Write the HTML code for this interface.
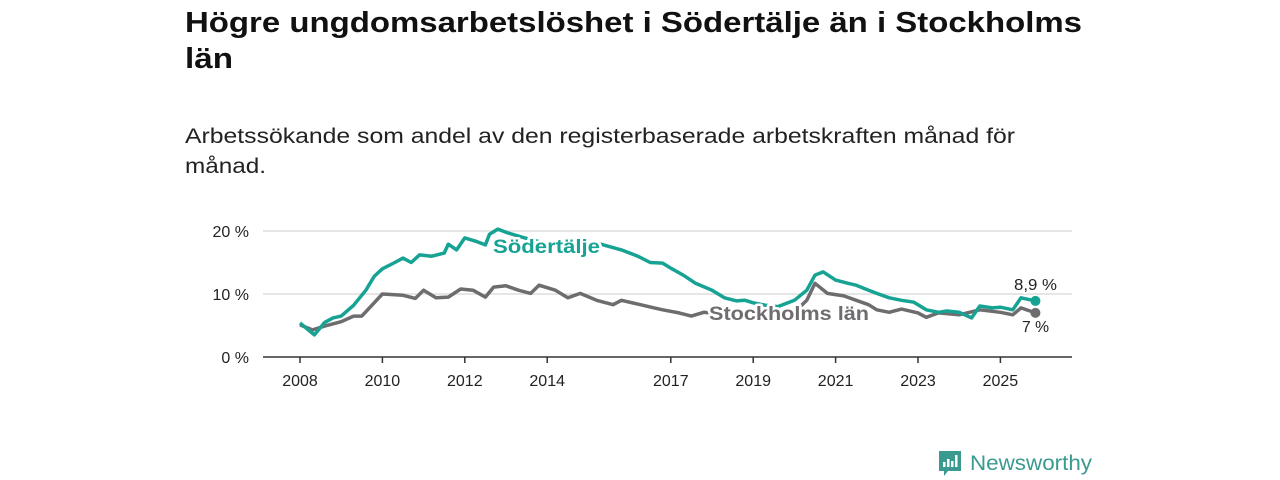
<!DOCTYPE html>
<html><head><meta charset="utf-8"><style>
html,body{margin:0;padding:0;background:#fff;width:1280px;height:480px;overflow:hidden}
svg{display:block;font-family:"Liberation Sans",sans-serif}
</style></head><body>
<svg id="c" width="1280" height="480" viewBox="0 0 1280 480">
<text x="185" y="32" font-size="29" font-weight="bold" fill="#111" textLength="897" lengthAdjust="spacingAndGlyphs">Högre ungdomsarbetslöshet i Södertälje än i Stockholms</text>
<text x="185" y="68" font-size="29" font-weight="bold" fill="#111" textLength="48" lengthAdjust="spacingAndGlyphs">län</text>
<text x="185" y="143" font-size="21" fill="#222" textLength="830" lengthAdjust="spacingAndGlyphs">Arbetssökande som andel av den registerbaserade arbetskraften månad för</text>
<text x="185" y="173" font-size="21" fill="#222" textLength="81" lengthAdjust="spacingAndGlyphs">månad.</text>
<g id="grid"></g><g id="lines"></g><g id="labels"></g>
<g>
<path d="M939 451h22v20h-13l-4 5v-5h-5z" fill="#3a9a8f"/>
<rect x="943" y="462" width="2.5" height="5" fill="#fff"/><rect x="947" y="459" width="2.5" height="8" fill="#fff"/><rect x="951" y="461" width="2.5" height="6" fill="#fff"/><rect x="955" y="455" width="2.5" height="12" fill="#fff"/>
<text x="970" y="470" font-size="21" fill="#3a9a8f" textLength="122" lengthAdjust="spacingAndGlyphs">Newsworthy</text>
</g>
</svg>
<script>
const yTicks=[0,10,20];
const xTickYears=[2008,2010,2012,2014,2017,2019,2021,2023,2025];
const sodT=[2008.0,2008.35,2008.6,2008.8,2009.0,2009.3,2009.6,2009.8,2010.0,2010.3,2010.5,2010.7,2010.9,2011.2,2011.5,2011.6,2011.8,2012.0,2012.3,2012.5,2012.6,2012.8,2013.0,2013.4,2013.8,2014.2,2014.6,2015.0,2015.3,2015.8,2016.2,2016.5,2016.8,2017.0,2017.3,2017.6,2018.0,2018.3,2018.6,2018.8,2019.0,2019.3,2019.6,2020.0,2020.3,2020.5,2020.7,2021.0,2021.3,2021.5,2021.8,2022.0,2022.3,2022.6,2022.9,2023.2,2023.5,2023.7,2024.0,2024.3,2024.5,2024.8,2025.0,2025.3,2025.5,2025.85];
const sodV=[5.4,3.5,5.5,6.2,6.5,8.2,10.6,12.8,14,15,15.7,15,16.2,16,16.5,17.9,17,18.9,18.3,17.8,19.5,20.3,19.8,19,18.3,17.5,16.5,16.5,17.9,17,16,15,14.9,14.1,13,11.7,10.6,9.4,8.9,9,8.6,8.2,8.0,9,10.6,13,13.5,12.2,11.7,11.4,10.6,10.1,9.4,9,8.7,7.5,7.1,7.3,7.1,6.2,8.1,7.8,7.9,7.5,9.4,8.9];
const stoT=[2008.0,2008.3,2008.6,2009.0,2009.3,2009.5,2009.8,2010.0,2010.5,2010.8,2011.0,2011.3,2011.6,2011.9,2012.2,2012.5,2012.7,2013.0,2013.3,2013.6,2013.8,2014.2,2014.5,2014.8,2015.2,2015.6,2015.8,2016.2,2016.6,2016.8,2017.2,2017.5,2017.8,2018.2,2018.5,2019.0,2019.5,2020.0,2020.3,2020.5,2020.8,2021.2,2021.5,2021.8,2022.0,2022.3,2022.6,2023.0,2023.2,2023.5,2024.0,2024.5,2025.0,2025.3,2025.5,2025.85];
const stoV=[5.1,4.3,4.9,5.6,6.5,6.5,8.6,10,9.8,9.3,10.6,9.4,9.5,10.8,10.6,9.5,11.1,11.3,10.6,10.1,11.4,10.6,9.4,10.1,9,8.3,9,8.4,7.8,7.5,7,6.5,7.1,6.8,6.5,6.3,6.2,7.1,9,11.7,10.1,9.7,9,8.3,7.5,7.1,7.6,7,6.3,7,6.7,7.5,7.1,6.7,7.8,7];
const NS='http://www.w3.org/2000/svg';
const x=t=>300+(t-2008)*41.2;
const y=v=>357-v*6.3;
function mk(tag,attrs,parent,txt){const e=document.createElementNS(NS,tag);for(const k in attrs)e.setAttribute(k,attrs[k]);if(txt!==undefined)e.textContent=txt;parent.appendChild(e);return e;}
const grid=document.getElementById('grid'),lines=document.getElementById('lines'),labels=document.getElementById('labels');
yTicks.forEach(v=>{
 const l=mk('line',{x1:263,x2:1072,y1:y(v),y2:y(v),stroke:v===0?'#333':'#ddd','stroke-width':v===0?1.5:1.5},grid);
 
 
 const t=mk('text',{x:249,y:y(v)+6,'text-anchor':'end','font-size':16,fill:'#222'},grid,v+' %');
 
 
});
xTickYears.forEach(yr=>{
 const tk=mk('line',{x1:x(yr),x2:x(yr),y1:357,y2:363,stroke:'#333','stroke-width':1.5},grid);
 
 
 const t=mk('text',{x:x(yr),y:386,'text-anchor':'middle','font-size':16,fill:'#222'},grid,String(yr));
 
 
});
function path(T,V){return T.map((t,i)=>(i?'L':'M')+x(t).toFixed(1)+' '+y(V[i]).toFixed(1)).join(' ');}
const p1=mk('path',{d:path(stoT,stoV),fill:'none',stroke:'#6f6c70','stroke-width':3.5,'stroke-linejoin':'round'},lines);


const p2=mk('path',{d:path(sodT,sodV),fill:'none',stroke:'#16a394','stroke-width':3.5,'stroke-linejoin':'round'},lines);


const d1=mk('circle',{cx:x(stoT[stoT.length-1]),cy:y(stoV[stoV.length-1]),r:5,fill:'#6f6c70'},lines);


const d2=mk('circle',{cx:x(sodT[sodT.length-1]),cy:y(sodV[sodV.length-1]),r:5,fill:'#16a394'},lines);


function lbl(name,tx,ty,txt,col,size,w,bold){
 const t=mk('text',{x:tx,y:ty,'font-size':size,fill:col,'font-weight':bold?'bold':'normal',stroke:'#fff','stroke-width':bold?5:4,'paint-order':'stroke','stroke-linejoin':'round',textLength:w,lengthAdjust:'spacingAndGlyphs'},labels,txt);
 
 
}
lbl('sodertalje-label',493,253,'Södertälje','#16a394',19,107,true);
lbl('stockholm-label',709,320,'Stockholms län','#6f6c70',19,160,true);
lbl('sodertalje-end-value',1014,290,'8,9 %','#222',16,43,false);
lbl('stockholm-end-value',1022,332,'7 %','#222',16,27,false);
</script>
</body></html>
